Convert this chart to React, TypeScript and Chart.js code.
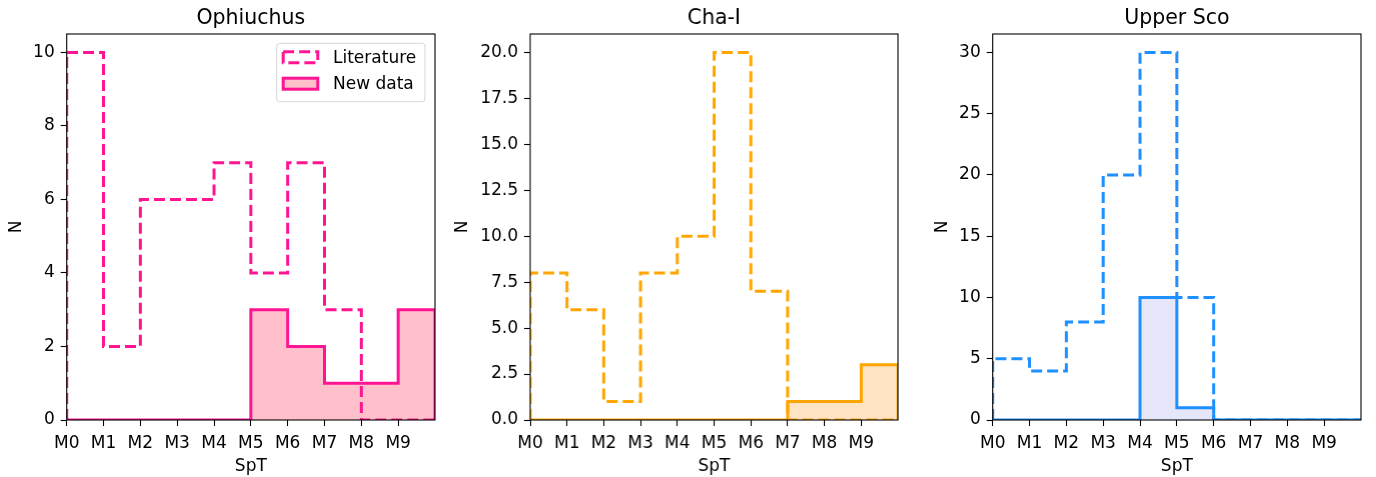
import React, { useEffect, useRef } from 'react';
import { Chart, registerables } from 'chart.js';

Chart.register(...registerables);

// ---------------- data ----------------
const SPT_LABELS = ['M0', 'M1', 'M2', 'M3', 'M4', 'M5', 'M6', 'M7', 'M8', 'M9'];
const BIN_EDGES = [0, 1, 2, 3, 4, 5, 6, 7, 8, 9, 10];

const OPH_LITERATURE = [10, 2, 6, 6, 7, 4, 7, 3, 0, 0];
const OPH_NEW = [0, 0, 0, 0, 0, 3, 2, 1, 1, 3];
const CHA_LITERATURE = [8, 6, 1, 8, 10, 20, 7, 0, 0, 0];
const CHA_NEW = [0, 0, 0, 0, 0, 0, 0, 1, 1, 3];
const USC_LITERATURE = [5, 4, 8, 20, 30, 10, 0, 0, 0, 0];
const USC_NEW = [0, 0, 0, 0, 10, 1, 0, 0, 0, 0];

const OPH_YTICKS = [0, 2, 4, 6, 8, 10];
const OPH_YLABELS = ['0', '2', '4', '6', '8', '10'];
const CHA_YTICKS = [0, 2.5, 5, 7.5, 10, 12.5, 15, 17.5, 20];
const CHA_YLABELS = ['0.0', '2.5', '5.0', '7.5', '10.0', '12.5', '15.0', '17.5', '20.0'];
const USC_YTICKS = [0, 5, 10, 15, 20, 25, 30];
const USC_YLABELS = ['0', '5', '10', '15', '20', '25', '30'];

const PANEL_TITLES = ['Ophiuchus', 'Cha-I', 'Upper Sco'];
const LEGEND_LABELS = ['Literature', 'New data'];
const X_TITLE = 'SpT';
const Y_TITLE = 'N';

// ---------------- helpers ----------------
const FONT_FAMILY = '"DejaVu Sans", sans-serif';
const TICK_FONT = { family: FONT_FAMILY, size: 17 };
const TITLE_FONT_SIZE = 20.5;
const DASH = [11, 5];

function stepPoints(counts: number[]) {
  const pts: { x: number; y: number }[] = [{ x: BIN_EDGES[0], y: 0 }];
  counts.forEach((c, i) => {
    pts.push({ x: BIN_EDGES[i], y: c });
    pts.push({ x: BIN_EDGES[i + 1], y: c });
  });
  pts.push({ x: BIN_EDGES[BIN_EDGES.length - 1], y: 0 });
  return pts;
}

const decorPlugin = {
  id: 'histDecor',
  afterDatasetsDraw(chart: any, _args: any, opts: any) {
    const ctx = chart.ctx;
    const { left, right, top, bottom } = chart.chartArea;
    ctx.save();
    // frame (spines)
    ctx.strokeStyle = '#000';
    ctx.lineWidth = 1.1;
    ctx.setLineDash([]);
    ctx.strokeRect(left, top, right - left, bottom - top);
    // title
    ctx.fillStyle = '#000';
    ctx.font = `${TITLE_FONT_SIZE}px ${FONT_FAMILY}`;
    ctx.textAlign = 'center';
    ctx.textBaseline = 'alphabetic';
    ctx.fillText(opts.title, (left + right) / 2, 24);
    // legend
    if (opts.legend) {
      const bw = 148.3;
      const bh = 58.4;
      const bx = right - 10 - bw;
      const by = top + 9.3;
      const r = 3;
      ctx.beginPath();
      ctx.moveTo(bx + r, by);
      ctx.lineTo(bx + bw - r, by);
      ctx.arcTo(bx + bw, by, bx + bw, by + r, r);
      ctx.lineTo(bx + bw, by + bh - r);
      ctx.arcTo(bx + bw, by + bh, bx + bw - r, by + bh, r);
      ctx.lineTo(bx + r, by + bh);
      ctx.arcTo(bx, by + bh, bx, by + bh - r, r);
      ctx.lineTo(bx, by + r);
      ctx.arcTo(bx, by, bx + r, by, r);
      ctx.closePath();
      ctx.fillStyle = 'rgba(255,255,255,0.8)';
      ctx.fill();
      ctx.strokeStyle = 'rgba(204,204,204,0.8)';
      ctx.lineWidth = 1;
      ctx.stroke();

      const hx = bx + 6.5;
      const hw = 34.6;
      const hh = 11;
      const c1 = by + 13.9;
      const c2 = by + 40.4;
      // literature handle (dashed outline)
      ctx.lineWidth = 3;
      ctx.strokeStyle = opts.color;
      ctx.setLineDash(DASH);
      ctx.strokeRect(hx, c1 - hh / 2, hw, hh);
      // new data handle (filled)
      ctx.setLineDash([]);
      ctx.fillStyle = opts.fill;
      ctx.fillRect(hx, c2 - hh / 2, hw, hh);
      ctx.strokeRect(hx, c2 - hh / 2, hw, hh);
      // texts
      ctx.fillStyle = '#000';
      ctx.font = `${TICK_FONT.size}px ${FONT_FAMILY}`;
      ctx.textAlign = 'left';
      ctx.textBaseline = 'middle';
      ctx.fillText(opts.labels[0], bx + 56.3, c1 + 1);
      ctx.fillText(opts.labels[1], bx + 56.3, c2 + 1);
    }
    ctx.restore();
  },
};

type PanelProps = {
  title: string;
  literature: number[];
  newData: number[];
  color: string;
  fill: string;
  yMax: number;
  yTicks: number[];
  yLabels: string[];
  left: number;
  width: number;
  yWidth: number;
  legend: boolean;
};

function Panel(p: PanelProps) {
  const ref = useRef<HTMLCanvasElement | null>(null);
  useEffect(() => {
    if (!ref.current) return;
    const grid = {
      display: true,
      drawOnChartArea: false,
      drawTicks: true,
      tickLength: 6,
      tickColor: '#000',
      tickWidth: 1.1,
    };
    const chart = new Chart(ref.current, {
      type: 'line',
      data: {
        datasets: [
          {
            label: LEGEND_LABELS[0],
            data: stepPoints(p.literature),
            borderColor: p.color,
            borderWidth: 3,
            borderDash: DASH,
            pointRadius: 0,
            tension: 0,
            fill: false,
            borderJoinStyle: 'miter',
          },
          {
            label: LEGEND_LABELS[1],
            data: stepPoints(p.newData),
            borderColor: p.color,
            backgroundColor: p.fill,
            borderWidth: 3,
            pointRadius: 0,
            tension: 0,
            fill: 'origin',
            borderJoinStyle: 'miter',
          },
        ],
      } as any,
      options: {
        animation: false,
        responsive: false,
        events: [],
        layout: { padding: { left: 0, right: 10, top: 34, bottom: 0 } },
        plugins: {
          legend: { display: false },
          tooltip: { enabled: false },
          title: { display: false },
          histDecor: {
            title: p.title,
            legend: p.legend,
            color: p.color,
            fill: p.fill,
            labels: LEGEND_LABELS,
          },
        } as any,
        scales: {
          x: {
            type: 'linear',
            min: BIN_EDGES[0],
            max: BIN_EDGES[BIN_EDGES.length - 1],
            bounds: 'data',
            afterBuildTicks: (s: any) => {
              s.ticks = SPT_LABELS.map((_, i) => ({ value: BIN_EDGES[i] }));
            },
            afterFit: (s: any) => {
              s.height = 57;
              s.paddingLeft = 0;
              s.paddingRight = 0;
            },
            ticks: {
              autoSkip: false,
              maxRotation: 0,
              minRotation: 0,
              padding: 7.5,
              color: '#000',
              font: TICK_FONT,
              callback: (_v: any, i: number) => SPT_LABELS[i],
            },
            grid,
            border: { display: false },
            title: {
              display: true,
              text: X_TITLE,
              color: '#000',
              font: TICK_FONT,
              padding: { top: 0, bottom: 0 },
            },
          },
          y: {
            type: 'linear',
            min: 0,
            max: p.yMax,
            bounds: 'data',
            afterBuildTicks: (s: any) => {
              s.ticks = p.yTicks.map((v) => ({ value: v }));
            },
            afterFit: (s: any) => {
              s.width = p.yWidth;
              s.paddingTop = 0;
              s.paddingBottom = 0;
            },
            ticks: {
              autoSkip: false,
              padding: 6,
              color: '#000',
              font: TICK_FONT,
              callback: (_v: any, i: number) => p.yLabels[i],
            },
            grid,
            border: { display: false },
            title: {
              display: true,
              text: Y_TITLE,
              color: '#000',
              font: TICK_FONT,
              padding: { top: 0, bottom: 0 },
            },
          },
        } as any,
      },
      plugins: [decorPlugin],
    });
    return () => chart.destroy();
  }, []);
  return (
    <canvas
      ref={ref}
      width={p.width}
      height={477}
      style={{ position: 'absolute', left: p.left, top: 0, width: p.width, height: 477 }}
    />
  );
}

export default function App() {
  return (
    <div style={{ position: 'absolute', left: 0, top: 0, width: 1376, height: 477, background: '#fff' }}>
      <Panel
        title={PANEL_TITLES[0]}
        literature={OPH_LITERATURE}
        newData={OPH_NEW}
        color="#ff1493"
        fill="#ffc0cb"
        yMax={10.5}
        yTicks={OPH_YTICKS}
        yLabels={OPH_YLABELS}
        left={6}
        width={439}
        yWidth={60.7}
        legend={true}
      />
      <Panel
        title={PANEL_TITLES[1]}
        literature={CHA_LITERATURE}
        newData={CHA_NEW}
        color="#ffa500"
        fill="#ffe4c4"
        yMax={21}
        yTicks={CHA_YTICKS}
        yLabels={CHA_YLABELS}
        left={452}
        width={455.7}
        yWidth={78}
        legend={false}
      />
      <Panel
        title={PANEL_TITLES[2]}
        literature={USC_LITERATURE}
        newData={USC_NEW}
        color="#1e90ff"
        fill="#e6e6fa"
        yMax={31.5}
        yTicks={USC_YTICKS}
        yLabels={USC_YLABELS}
        left={932}
        width={439}
        yWidth={60.7}
        legend={false}
      />
    </div>
  );
}
